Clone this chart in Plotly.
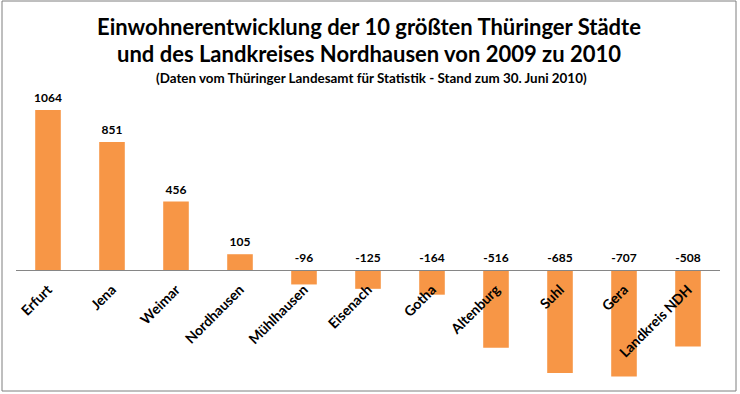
import plotly.graph_objects as go

categories = ["Erfurt", "Jena", "Weimar", "Nordhausen", "Mühlhausen", "Eisenach",
              "Gotha", "Altenburg", "Suhl", "Gera", "Landkreis NDH"]
values = [1064, 851, 456, 105, -96, -125, -164, -516, -685, -707, -508]

title_line1 = "Einwohnerentwicklung der 10 größten Thüringer Städte"
title_line2 = "und des Landkreises Nordhausen von 2009 zu 2010"
subtitle = "(Daten vom Thüringer Landesamt für Statistik - Stand zum 30. Juni 2010)"

FONT = "Lato, Carlito, Calibri, 'Open Sans', sans-serif"
BAR_COLOR = "#F79646"

W, H = 740, 394
ML, MR, MT, MB = 16, 20, 100, 14
Y_RANGE = [-731, 1130]
zero_pos = (0 - Y_RANGE[0]) / (Y_RANGE[1] - Y_RANGE[0])

fig = go.Figure()
fig.add_trace(go.Bar(
    x=categories, y=values,
    marker=dict(color=BAR_COLOR, line=dict(width=0)),
    hoverinfo="x+y",
))
fig.add_trace(go.Scatter(
    x=categories, y=[max(v, 0) for v in values],
    mode="markers+text", text=[str(v) for v in values],
    marker=dict(size=6, opacity=0),
    textposition="top center",
    textfont=dict(family=FONT, size=12, color="#000000", weight="bold"),
    cliponaxis=False, hoverinfo="skip",
))

def px_to_paper_x(px):
    return (px - ML) / (W - ML - MR)

def px_to_paper_y(py):
    return (H - MB - py) / (H - MT - MB)

fig.add_shape(type="rect", xref="paper", yref="paper",
              x0=px_to_paper_x(2), x1=px_to_paper_x(736),
              y0=px_to_paper_y(391), y1=px_to_paper_y(1),
              line=dict(color="#7F7F7F", width=1), layer="below")

fig.add_annotation(text=title_line1, xref="paper", yref="paper",
                   x=px_to_paper_x(369), y=px_to_paper_y(26), xanchor="center", yanchor="middle",
                   showarrow=False, font=dict(family=FONT, size=22, color="#000000", weight="bold"))
fig.add_annotation(text=title_line2, xref="paper", yref="paper",
                   x=px_to_paper_x(369), y=px_to_paper_y(54), xanchor="center", yanchor="middle",
                   showarrow=False, font=dict(family=FONT, size=22, color="#000000", weight="bold"))
fig.add_annotation(text=subtitle, xref="paper", yref="paper",
                   x=px_to_paper_x(371), y=px_to_paper_y(78), xanchor="center", yanchor="middle",
                   showarrow=False, font=dict(family=FONT, size=13.4, color="#000000", weight="bold"))

fig.update_layout(
    width=W, height=H,
    margin=dict(l=ML, r=MR, t=MT, b=MB, pad=0, autoexpand=False),
    paper_bgcolor="#FFFFFF", plot_bgcolor="#FFFFFF",
    showlegend=False,
    bargap=0.6,
    xaxis=dict(
        anchor="free", position=zero_pos, automargin=False,
        range=[-0.5, len(categories) - 0.5],
        showline=True, linecolor="#868686", linewidth=1,
        ticks="", showgrid=False, zeroline=False,
        tickangle=-45, ticklabelstandoff=5,
        tickfont=dict(family=FONT, size=14, color="#000000", weight="bold"),
    ),
    yaxis=dict(
        range=Y_RANGE, visible=False, showgrid=False, zeroline=False, automargin=False,
    ),
)

fig.write_html("out.html", config={"displayModeBar": False},
               post_script="document.body.style.margin='0';document.body.style.overflow='hidden';")
